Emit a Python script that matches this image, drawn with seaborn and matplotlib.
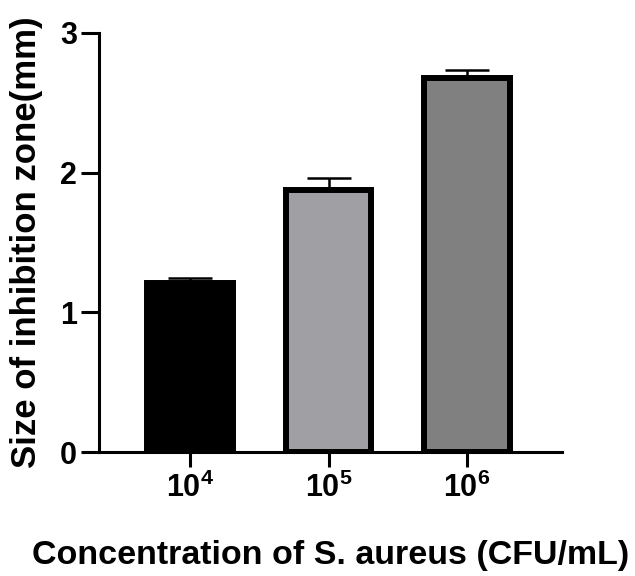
import matplotlib
matplotlib.use("Agg")
import matplotlib.pyplot as plt
import seaborn as sns
import pandas as pd

sns.set_theme(style="ticks")
plt.rcParams['font.family'] = ['Liberation Sans', 'DejaVu Sans']
plt.rcParams['mathtext.fontset'] = 'custom'
plt.rcParams['mathtext.rm'] = 'Liberation Sans:bold'
plt.rcParams['mathtext.bf'] = 'Liberation Sans:bold'
plt.rcParams['mathtext.it'] = 'Liberation Sans:bold'
plt.rcParams['text.color'] = 'black'
plt.rcParams['axes.labelcolor'] = 'black'
plt.rcParams['xtick.color'] = 'black'
plt.rcParams['ytick.color'] = 'black'

categories = ["10^4", "10^5", "10^6"]
tick_labels = [r"$\mathbf{10}^{4}$", r"$\mathbf{10}^{5}$", r"$\mathbf{10}^{6}$"]
values = [1.21, 1.875, 2.675]
errors = [0.035, 0.09, 0.06]
colors = ["#000000", "#a0a0a4", "#808080"]

df = pd.DataFrame({"conc": categories, "size": values})

fig = plt.figure(figsize=(6.35, 5.76), dpi=100)
ax = fig.add_axes([0.156, 0.215, 0.729, 0.728])

sns.barplot(data=df, x="conc", y="size", hue="conc", palette=colors,
            order=categories, width=0.62, edgecolor="black", linewidth=4.3,
            errorbar=None, legend=False, ax=ax, zorder=3)

ax.errorbar(range(len(categories)), values, yerr=[[0]*3, errors], fmt="none",
            ecolor="black", elinewidth=1.8, capsize=16, capthick=1.8, zorder=2)

ax.set_xlim(-0.657, 2.686)
ax.set_ylim(0, 3)
ax.set_yticks([0, 1, 2, 3])
ax.set_yticklabels(["0", "1", "2", "3"], fontsize=22, fontweight="bold")
ax.set_xticks(range(3))
ax.set_xticklabels(tick_labels, fontsize=22)

for s in ["top", "right"]:
    ax.spines[s].set_visible(False)
for s in ["left", "bottom"]:
    ax.spines[s].set_linewidth(2.2)
    ax.spines[s].set_color("black")
ax.tick_params(axis="y", length=13, width=2.2, pad=3, colors="black")
ax.tick_params(axis="x", length=11, width=2.2, pad=4, colors="black")

ax.set_ylabel("Size of inhibition zone(mm)", fontsize=25, fontweight="bold", labelpad=12)
ax.set_xlabel("Concentration of S. aureus (CFU/mL)", fontsize=24.5, fontweight="bold", labelpad=26)

fig.savefig("out.png", dpi=100, facecolor="white")
